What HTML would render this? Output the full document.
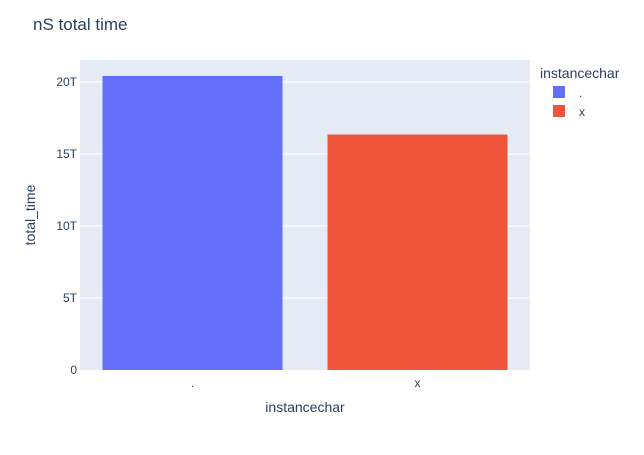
<!DOCTYPE html>
<html><head><meta charset="utf-8"><style>
body{margin:0;background:#fff;font-family:"Liberation Sans",Arial,sans-serif;}
</style></head><body>
<svg width="644" height="450" xmlns="http://www.w3.org/2000/svg">
<text x="33" y="30" font-size="17" fill="#2a3f5f">nS total time</text>
<rect x="80" y="60" width="450" height="310" fill="#e5ecf6"/>
<g id="grid"></g>
<g id="bars"></g>
<g id="xt"></g>
<text x="305" y="412" font-size="14" fill="#2a3f5f" text-anchor="middle">instancechar</text>
<text transform="translate(35,215) rotate(-90)" font-size="14" fill="#2a3f5f" text-anchor="middle">total_time</text>
<text x="540" y="78" font-size="14" fill="#2a3f5f">instancechar</text>
<g id="legend"></g>
</svg>
<script>
const categories=[".","x"];
const values=[20.42,16.35];
const yTicks=[0,5,10,15,20];
const yTickLabels=["0","5T","10T","15T","20T"];
const colors=["#636efa","#ef553b"];
const ns="http://www.w3.org/2000/svg";
const x0=80,w=450,yb=370,pxPer=72/5;
const y=v=>yb-v*pxPer;
function mk(t,a,p){const e=document.createElementNS(ns,t);for(const k in a)e.setAttribute(k,a[k]);p.appendChild(e);return e;}
const g=document.getElementById('grid');
yTicks.forEach((t,i)=>{
 if(t!==0){const l=mk('line',{x1:x0,x2:x0+w,y1:y(t),y2:y(t),stroke:'#fff','stroke-width':1},g);
 
 }
 const tx=mk('text',{x:x0-3,y:y(t)+4,'font-size':12,fill:'#2a3f5f','text-anchor':'end'},g);tx.textContent=yTickLabels[i];
 
 
});
const cw=w/categories.length,b=document.getElementById('bars'),xt=document.getElementById('xt'),lg=document.getElementById('legend');
categories.forEach((c,i)=>{
 const r=mk('rect',{x:x0+i*cw+cw*0.1,y:y(values[i]),width:cw*0.8,height:yb-y(values[i]),fill:colors[i]},b);
 
 
 const t=mk('text',{x:x0+i*cw+cw/2,y:yb+17,'font-size':12,fill:'#2a3f5f','text-anchor':'middle'},xt);t.textContent=c;
 
 
 const lr=mk('rect',{x:553,y:86+i*19,width:12,height:12,fill:colors[i]},lg);
 
 
 const lt=mk('text',{x:579,y:97+i*19,'font-size':12,fill:'#2a3f5f'},lg);lt.textContent=c;
 
 
});
</script>
</body></html>
